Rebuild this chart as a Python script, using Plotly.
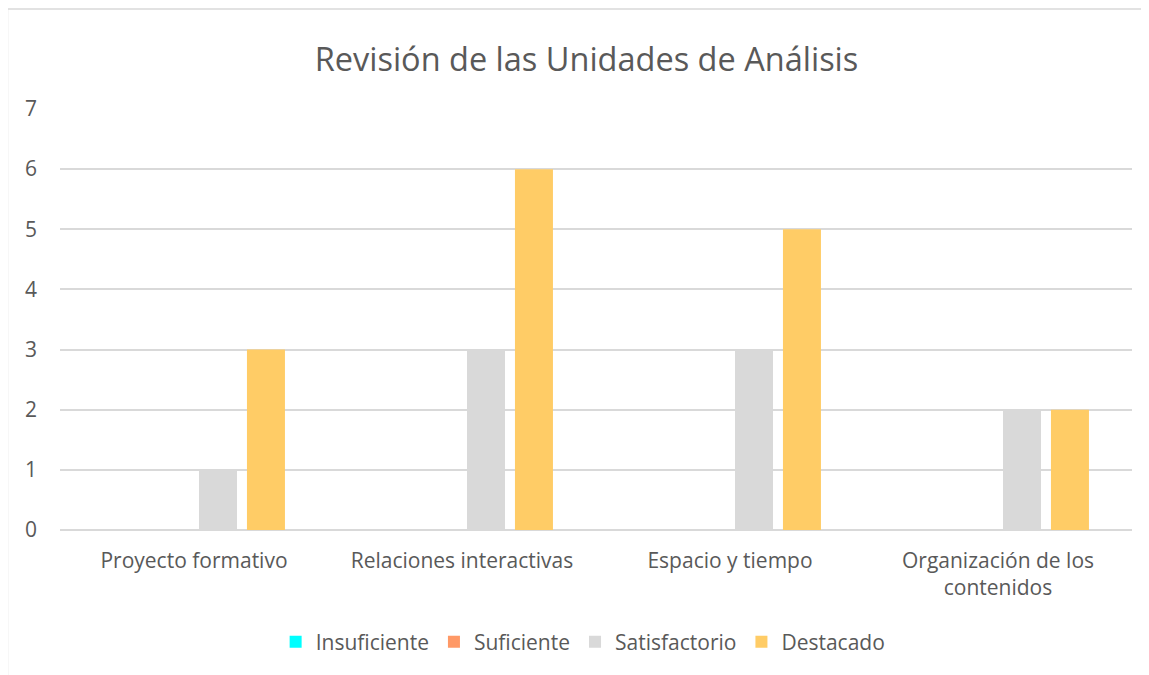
import plotly.graph_objects as go

categories = ["Proyecto formativo", "Relaciones interactivas", "Espacio y tiempo", "Organización de los<br>contenidos"]
series_names = ["Insuficiente", "Suficiente", "Satisfactorio", "Destacado"]
insuficiente = [0, 0, 0, 0]
suficiente = [0, 0, 0, 0]
satisfactorio = [1, 3, 3, 2]
destacado = [3, 6, 5, 2]
colors = ["#00FFFF", "#FF9966", "#D9D9D9", "#FFCC66"]
y_ticks = [0, 1, 2, 3, 4, 5, 6, 7]

fig = go.Figure()
for name, vals, col in zip(series_names, [insuficiente, suficiente, satisfactorio, destacado], colors):
    fig.add_trace(go.Bar(x=categories, y=vals, name=name, marker=dict(color=col, line=dict(width=0))))

font_family = "Open Sans, Noto Sans, sans-serif"
# page body has an 8px margin; figure size/margins compensate for it
fig.update_layout(
    width=1141, height=667,
    margin=dict(l=52, r=17, t=101, b=145),
    paper_bgcolor="white", plot_bgcolor="white",
    barmode="group", bargap=0.284, bargroupgap=0.208,
    title=dict(text="Revisión de las Unidades de Análisis", x=0.507, xanchor="center",
               y=0.923, yanchor="middle",
               font=dict(family=font_family, size=32.5, color="#595959")),
    font=dict(family=font_family, color="#595959"),
    legend=dict(orientation="h", x=0.488, xanchor="center", y=-0.266, yanchor="middle",
                font=dict(size=21, color="#595959"), itemwidth=30, traceorder="normal"),
    showlegend=True,
)
fig.update_yaxes(range=[0, 7], tickvals=y_ticks, showgrid=True, gridcolor="#D9D9D9", gridwidth=1.5,
                 zeroline=True, zerolinecolor="#D9D9D9", zerolinewidth=1.5,
                 tickfont=dict(size=21, color="#595959"), ticklabelstandoff=22, showline=False)
fig.update_xaxes(tickfont=dict(size=21, color="#595959"), showline=False, showgrid=False,
                 ticklabelstandoff=16)

# chart border (partially cropped)
border = "#D9D9D9"
fig.add_shape(type="line", xref="paper", yref="paper", x0=-0.049, x1=-0.049, y0=1.2375, y1=-0.40,
              line=dict(color=border, width=1.5))
fig.add_shape(type="line", xref="paper", yref="paper", x0=-0.049, x1=1.10, y0=1.2375, y1=1.2375,
              line=dict(color=border, width=1.5))

fig.write_html("out.html")
